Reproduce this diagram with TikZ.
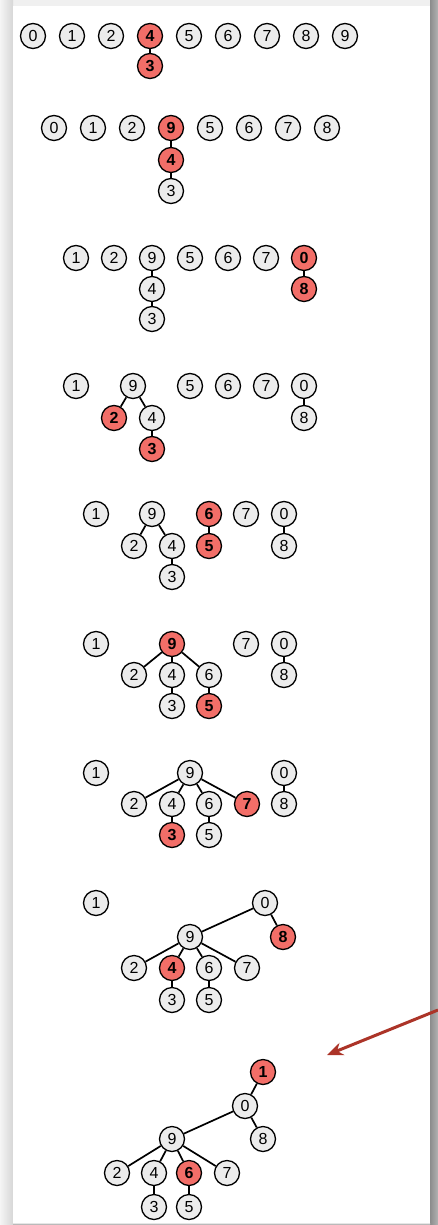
\documentclass[tikz,border=0pt]{standalone}
\usepackage{fontspec}
\setmainfont{Liberation Sans}
\usetikzlibrary{arrows.meta}
\definecolor{nodegray}{RGB}{236,236,236}
\definecolor{nodered}{RGB}{242,110,104}
\definecolor{arrowred}{RGB}{172,52,40}
\tikzset{
  nd/.style={circle,draw=black,line width=1.3pt,fill=nodegray,minimum size=25pt,inner sep=0pt,font=\fontsize{16}{16}\selectfont},
  rd/.style={nd,fill=nodered,font=\fontsize{16}{16}\selectfont\bfseries},
  ed/.style={line width=1.7pt,black},
}
\begin{document}
\begin{tikzpicture}[x=1pt,y=-1pt]
\useasboundingbox (0,0) rectangle (438,1225);
% card and shadow
\fill[black!6] (0,0) rectangle (438,1225);
\shade[left color=black!4,right color=black!16] (0,0) rectangle (13,1225);
\shade[left color=black!45,right color=black!30] (430,0) rectangle (438,1225);
\shade[top color=black!10,bottom color=black!45] (13,1223) rectangle (430,1225);
\fill[white] (13,6) rectangle (430,1223);

% ---- row 1
\node[nd] (a0) at (33,36) {0};
\node[nd] (a1) at (72,36) {1};
\node[nd] (a2) at (111,36) {2};
\node[rd] (a4) at (150,36) {4};
\node[nd] (a5) at (189,36) {5};
\node[nd] (a6) at (228,36) {6};
\node[nd] (a7) at (267,36) {7};
\node[nd] (a8) at (306,36) {8};
\node[nd] (a9) at (345,36) {9};
\node[rd] (a3) at (150,66) {3};
\draw[ed] (a4) -- (a3);

% ---- row 2
\node[nd] (b0) at (54,128) {0};
\node[nd] (b1) at (93,128) {1};
\node[nd] (b2) at (132,128) {2};
\node[rd] (b9) at (171,128) {9};
\node[nd] (b5) at (210,128) {5};
\node[nd] (b6) at (249,128) {6};
\node[nd] (b7) at (288,128) {7};
\node[nd] (b8) at (327,128) {8};
\node[rd] (b4) at (171,160) {4};
\node[nd] (b3) at (171,191) {3};
\draw[ed] (b9) -- (b4);
\draw[ed] (b4) -- (b3);

% ---- row 3
\node[nd] (c1) at (76,258) {1};
\node[nd] (c2) at (114,258) {2};
\node[nd] (c9) at (152,258) {9};
\node[nd] (c5) at (190,258) {5};
\node[nd] (c6) at (228,258) {6};
\node[nd] (c7) at (266,258) {7};
\node[rd] (c0) at (304,258) {0};
\node[nd] (c4) at (152,289) {4};
\node[rd] (c8) at (304,289) {8};
\node[nd] (c3) at (152,319) {3};
\draw[ed] (c9) -- (c4);
\draw[ed] (c4) -- (c3);
\draw[ed] (c0) -- (c8);

% ---- row 4
\node[nd] (d1) at (76,386) {1};
\node[nd] (d9) at (133,386) {9};
\node[nd] (d5) at (190,386) {5};
\node[nd] (d6) at (228,386) {6};
\node[nd] (d7) at (266,386) {7};
\node[nd] (d0) at (304,386) {0};
\node[rd] (d2) at (114,418) {2};
\node[nd] (d4) at (152,418) {4};
\node[nd] (d8) at (304,418) {8};
\node[rd] (d3) at (152,449) {3};
\draw[ed] (d9) -- (d2);
\draw[ed] (d9) -- (d4);
\draw[ed] (d4) -- (d3);
\draw[ed] (d0) -- (d8);

% ---- row 5
\node[nd] (e1) at (96,514) {1};
\node[nd] (e9) at (152,514) {9};
\node[rd] (e6) at (209,514) {6};
\node[nd] (e7) at (246,514) {7};
\node[nd] (e0) at (284,514) {0};
\node[nd] (e2) at (134,546) {2};
\node[nd] (e4) at (172,546) {4};
\node[rd] (e5) at (209,546) {5};
\node[nd] (e8) at (284,546) {8};
\node[nd] (e3) at (172,577) {3};
\draw[ed] (e9) -- (e2);
\draw[ed] (e9) -- (e4);
\draw[ed] (e4) -- (e3);
\draw[ed] (e6) -- (e5);
\draw[ed] (e0) -- (e8);

% ---- row 6
\node[nd] (f1) at (96,644) {1};
\node[rd] (f9) at (172,644) {9};
\node[nd] (f7) at (246,644) {7};
\node[nd] (f0) at (284,644) {0};
\node[nd] (f2) at (134,675) {2};
\node[nd] (f4) at (172,675) {4};
\node[nd] (f6) at (209,675) {6};
\node[nd] (f8) at (284,675) {8};
\node[nd] (f3) at (172,706) {3};
\node[rd] (f5) at (209,706) {5};
\draw[ed] (f9) -- (f2);
\draw[ed] (f9) -- (f4);
\draw[ed] (f9) -- (f6);
\draw[ed] (f4) -- (f3);
\draw[ed] (f6) -- (f5);
\draw[ed] (f0) -- (f8);

% ---- row 7
\node[nd] (g1) at (96,773) {1};
\node[nd] (g9) at (190,773) {9};
\node[nd] (g0) at (284,773) {0};
\node[nd] (g2) at (134,804) {2};
\node[nd] (g4) at (172,804) {4};
\node[nd] (g6) at (209,804) {6};
\node[rd] (g7) at (247,804) {7};
\node[nd] (g8) at (284,804) {8};
\node[rd] (g3) at (172,835) {3};
\node[nd] (g5) at (209,835) {5};
\draw[ed] (g9) -- (g2);
\draw[ed] (g9) -- (g4);
\draw[ed] (g9) -- (g6);
\draw[ed] (g9) -- (g7);
\draw[ed] (g4) -- (g3);
\draw[ed] (g6) -- (g5);
\draw[ed] (g0) -- (g8);

% ---- row 8
\node[nd] (h1) at (96,903) {1};
\node[nd] (h0) at (265,903) {0};
\node[nd] (h9) at (190,937) {9};
\node[rd] (h8) at (283,937) {8};
\node[nd] (h2) at (134,968) {2};
\node[rd] (h4) at (172,968) {4};
\node[nd] (h6) at (209,968) {6};
\node[nd] (h7) at (247,968) {7};
\node[nd] (h3) at (172,1000) {3};
\node[nd] (h5) at (209,1000) {5};
\draw[ed] (h0) -- (h9);
\draw[ed] (h0) -- (h8);
\draw[ed] (h9) -- (h2);
\draw[ed] (h9) -- (h4);
\draw[ed] (h9) -- (h6);
\draw[ed] (h9) -- (h7);
\draw[ed] (h4) -- (h3);
\draw[ed] (h6) -- (h5);

% ---- row 9
\node[rd] (i1) at (263,1072) {1};
\node[nd] (i0) at (245,1106) {0};
\node[nd] (i9) at (172,1139) {9};
\node[nd] (i8) at (263,1139) {8};
\node[nd] (i2) at (117,1173) {2};
\node[nd] (i4) at (154,1173) {4};
\node[rd] (i6) at (189,1173) {6};
\node[nd] (i7) at (227,1173) {7};
\node[nd] (i3) at (154,1207) {3};
\node[nd] (i5) at (189,1207) {5};
\draw[ed] (i1) -- (i0);
\draw[ed] (i0) -- (i9);
\draw[ed] (i0) -- (i8);
\draw[ed] (i9) -- (i2);
\draw[ed] (i9) -- (i4);
\draw[ed] (i9) -- (i6);
\draw[ed] (i9) -- (i7);
\draw[ed] (i4) -- (i3);
\draw[ed] (i6) -- (i5);

% ---- arrow
\coordinate (arrS) at (438,1010);
\coordinate (arrE) at (327,1055);
\draw[arrowred,line width=3pt,-{Stealth[length=16pt,width=13pt]}] (arrS) -- (arrE);
\end{tikzpicture}
\end{document}
